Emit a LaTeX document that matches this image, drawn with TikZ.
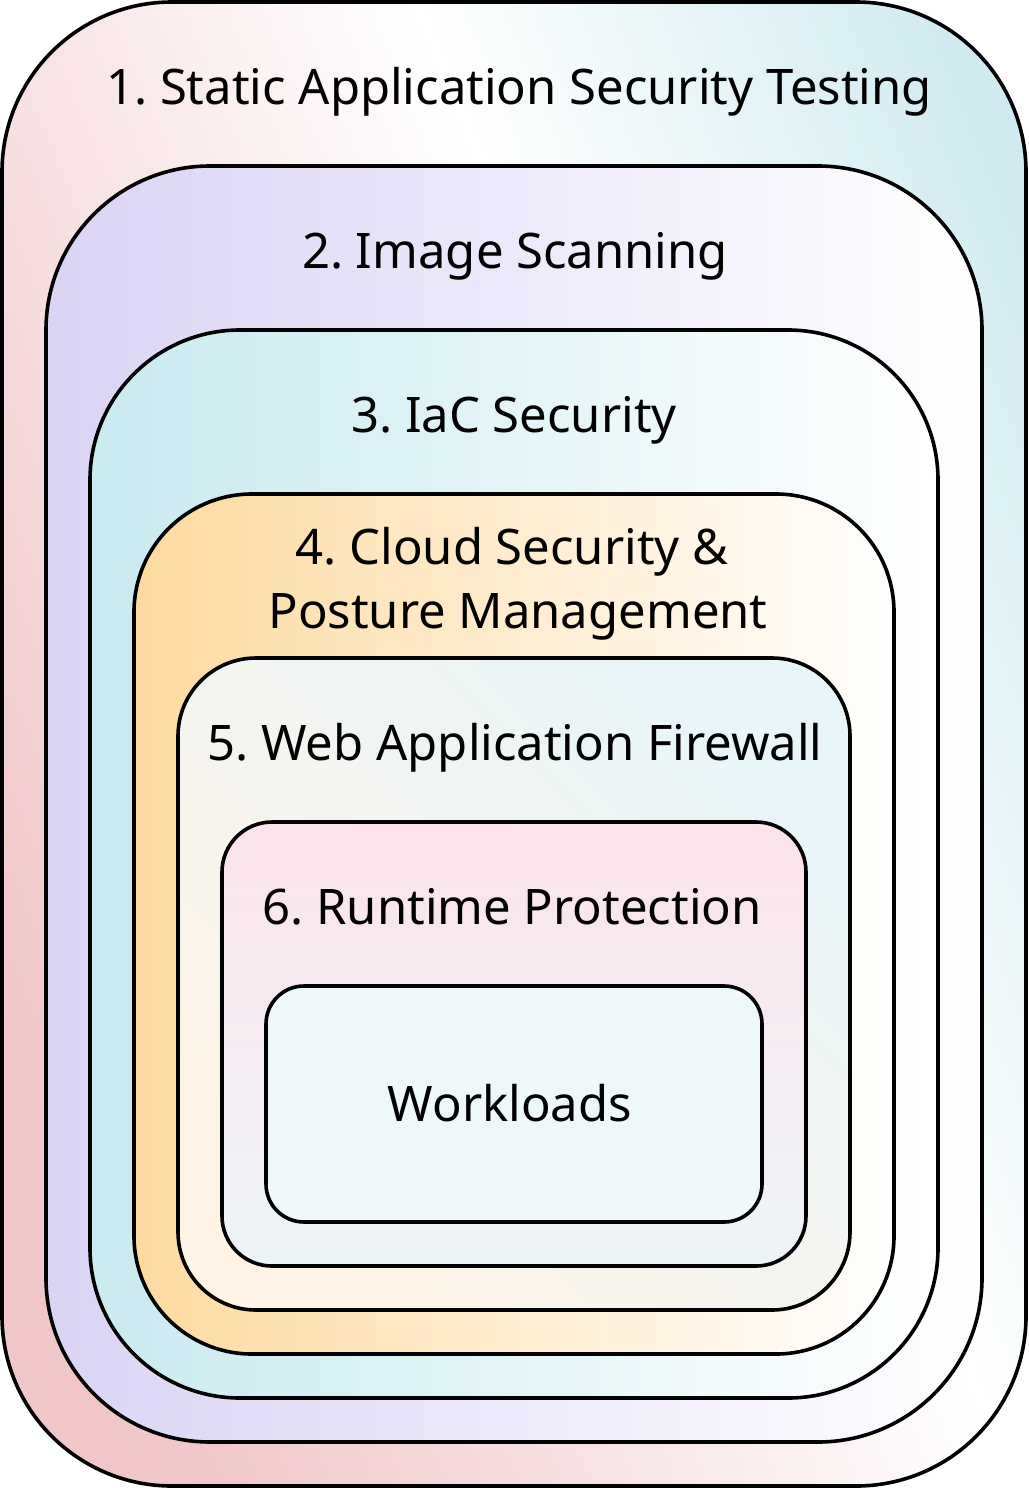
\documentclass[tikz,border=0pt]{standalone}
\usepackage{fontspec}
\setmainfont{Noto Sans}
\usepackage{xcolor}
\usepackage{tikz}
\frenchspacing
\definecolor{sastpink}{HTML}{F1C6C8}
\definecolor{sastcyan}{HTML}{CFEAF0}
\definecolor{imgviolet}{HTML}{DBD3F5}
\definecolor{iaccyan}{HTML}{C9EAF0}
\definecolor{cspmorange}{HTML}{FEDA9F}
\definecolor{wafcream}{HTML}{FFF4E6}
\definecolor{wafcyan}{HTML}{E8F5F9}
\definecolor{rtppink}{HTML}{FCE3EB}
\definecolor{rtpblue}{HTML}{EDF4F8}
\definecolor{workblue}{HTML}{EEF7F9}
\pgfdeclarehorizontalshading{sastfade}{100bp}{color(0bp)=(sastpink); color(25bp)=(sastpink); color(58bp)=(white); color(80bp)=(sastcyan); color(100bp)=(sastcyan)}
\tikzset{
  box/.style={draw=black, line width=1.8pt},
  lbl/.style={text=black, font=\fontsize{24.5}{32}\selectfont, anchor=base}
}

\begin{document}
\begin{tikzpicture}[x=0.5pt,y=-0.5pt]
\useasboundingbox (0,0) rectangle (1028,1488);
% 1 sast
\draw[box, rounded corners=85pt, shade, shading=sastfade, shading angle=22] (2,2) rectangle (1026,1486);
\node[lbl] (sast) at (519,104) {1. Static Application Security Testing};
% 2 image scanning
\draw[box, rounded corners=82pt, left color=imgviolet, right color=white] (46,166) rectangle (982,1442);
\node[lbl] (img) at (515,268) {2. Image Scanning};
% 3 iac
\draw[box, rounded corners=75pt, left color=iaccyan, right color=white] (90,330) rectangle (938,1398);
\node[lbl] (iac) at (514,432) {3. IaC Security};
% 4 cspm
\draw[box, rounded corners=59pt, left color=cspmorange, right color=white] (134,494) rectangle (894,1354);
\node[lbl] (cspm) at (512,564) {4. Cloud Security \&};
\node[lbl] (cspmb) at (518,628) {Posture Management};
% 5 waf
\draw[box, rounded corners=39pt, left color=wafcream, right color=wafcyan, shading angle=135] (178,658) rectangle (850,1310);
\node[lbl] (waf) at (515,760) {5. Web Application Firewall};
% 6 runtime
\draw[box, rounded corners=25pt, top color=rtppink, bottom color=rtpblue] (222,822) rectangle (806,1266);
\node[lbl] (rtp) at (512,924) {6. Runtime Protection};
% workloads
\draw[box, rounded corners=19pt, fill=workblue] (266,986) rectangle (762,1222);
\node[lbl] (work) at (510,1121) {Workloads};
\end{tikzpicture}
\end{document}
